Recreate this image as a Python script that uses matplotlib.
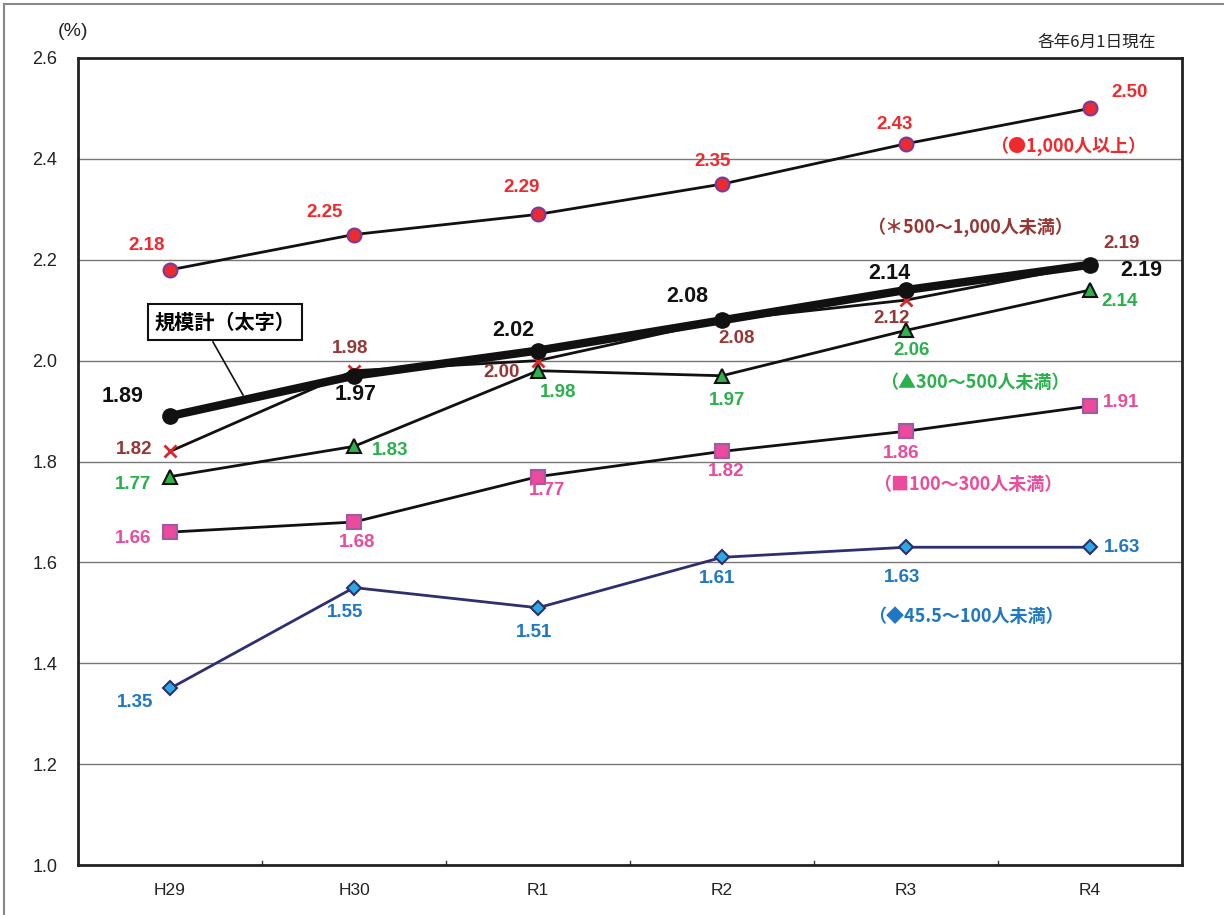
import matplotlib.pyplot as plt
from matplotlib.lines import Line2D

plt.rcParams['font.family'] = ['Noto Sans CJK JP', 'DejaVu Sans']

# data
years = ["H29", "H30", "R1", "R2", "R3", "R4"]
v1000 = [2.18, 2.25, 2.29, 2.35, 2.43, 2.50]
v500 = [1.82, 1.98, 2.00, 2.08, 2.12, 2.19]
v300 = [1.77, 1.83, 1.98, 1.97, 2.06, 2.14]
v100 = [1.66, 1.68, 1.77, 1.82, 1.86, 1.91]
v45 = [1.35, 1.55, 1.51, 1.61, 1.63, 1.63]
total = [1.89, 1.97, 2.02, 2.08, 2.14, 2.19]

# label offsets in pixels (dx, dy) with y up
off1000 = [(-23, 24), (-29, 22), (-16, 27), (-9, 23), (-11, 19), (40, 16)]
off500 = [(-36, 2), (-4, 22), (-36, -12), (15, -18), (-14, -18), (32, 21)]
off300 = [(-37, -8), (36, -4), (20, -22), (5, -25), (6, -20), (30, -11)]
off100 = [(-37, -6), (3, -20), (9, -14), (4, -20), (-5, -22), (31, 4)]
off45 = [(-35, -14), (-9, -25), (-4, -25), (-5, -21), (-4, -30), (32, 0)]
offtot = [(-47, 20), (2, -19), (-25, 20), (-35, 24), (-17, 17), (51, -6)]

x = list(range(len(years)))

fig = plt.figure(figsize=(12.24, 9.15), dpi=100)
ax = fig.add_axes([78 / 1224, 1 - 865 / 915, 1104 / 1224, 807 / 915])

ax.set_xlim(-0.5, 5.5)
ax.set_ylim(1.0, 2.6)
ax.set_yticks([1.0, 1.2, 1.4, 1.6, 1.8, 2.0, 2.2, 2.4, 2.6])
ax.set_yticklabels(["1.0", "1.2", "1.4", "1.6", "1.8", "2.0", "2.2", "2.4", "2.6"],
                   fontsize=13, family=['Liberation Sans', 'DejaVu Sans'], color='#222222')
ax.yaxis.grid(True, color='#777777', linewidth=1)
ax.set_axisbelow(True)
ax.tick_params(axis='y', length=0, pad=15)
ax.set_xticks(x)
ax.set_xticklabels(years, fontsize=12.5, family=['Liberation Sans', 'DejaVu Sans'], color='#222222')
ax.tick_params(axis='x', length=0, pad=13)
for b in [0.5, 1.5, 2.5, 3.5, 4.5]:
    ax.plot([b, b], [1.0, 1.008], color='#333333', linewidth=1)
for s in ax.spines.values():
    s.set_linewidth(2)
    s.set_color('#222222')

ax.plot(x, v45, color='#2e2f6e', linewidth=2, marker='D', markersize=7,
        markerfacecolor='#29aae1', markeredgecolor='#2e2f6e', markeredgewidth=1.5, zorder=3)
ax.plot(x, v100, color='#111111', linewidth=2, marker='s', markersize=10,
        markerfacecolor='#ec4a9b', markeredgecolor='#a05aa8', markeredgewidth=1.5, zorder=3)
ax.plot(x, v300, color='#111111', linewidth=2, marker='^', markersize=10,
        markerfacecolor='#2db34a', markeredgecolor='#111111', markeredgewidth=1.5, zorder=3)
ax.plot(x, v500, color='#111111', linewidth=2, marker='x', markersize=8,
        markeredgecolor='#d7262e', markeredgewidth=2, zorder=3)
ax.plot(x, v1000, color='#111111', linewidth=2, marker='o', markersize=10,
        markerfacecolor='#ec2a30', markeredgecolor='#7a3a9a', markeredgewidth=1.5, zorder=3)
ax.plot(x, total, color='#111111', linewidth=6, marker='o', markersize=11,
        markerfacecolor='#111111', markeredgecolor='#111111', zorder=4)

def labels(vals, offs, color, size):
    for xi, v, (dx, dy) in zip(x, vals, offs):
        ax.annotate(f"{v:.2f}", (xi, v), xytext=(dx, dy), textcoords='offset pixels',
                    ha='center', va='center', color=color, fontsize=size,
                    fontweight='bold', family=['Liberation Sans', 'DejaVu Sans'], zorder=5)

labels(v1000, off1000, '#ee2a2e', 13.5)
labels(v500, off500, '#953735', 13.5)
labels(v300, off300, '#2ab04c', 13.5)
labels(v100, off100, '#ec4a9b', 13.5)
labels(v45, off45, '#1f78c1', 13.5)
labels(total, offtot, '#111111', 15.5)

def px(xp, yp):
    return xp / 1224, 1 - yp / 915

leg = [
    ("（●1,000人以上）", '#ee2a2e', 1068, 146),
    ("（＊500～1,000人未満）", '#953735', 970, 227),
    ("（▲300～500人未満）", '#2ab04c', 975, 382),
    ("（■100～300人未満）", '#ec4a9b', 968, 484),
    ("（◆45.5～100人未満）", '#1f78c1', 966, 616),
]
for t, c, xp, yp in leg:
    fig.text(*px(xp, yp), t, color=c, fontsize=13, fontweight='bold', ha='center', va='center')

fig.text(*px(225, 322), "規模計（太字）", fontsize=14.5, fontweight='bold', ha='center', va='center',
         bbox=dict(boxstyle='square,pad=0.35', facecolor='white', edgecolor='#111111', linewidth=1.5))
fig.add_artist(Line2D([213 / 1224, 243 / 1224], [1 - 342 / 915, 1 - 395 / 915],
                      color='#111111', linewidth=1.2))

fig.text(*px(1097, 42), "各年6月1日現在", fontsize=12, ha='center', va='center', color='#222222')
fig.text(*px(73, 32), "(%)", fontsize=14, ha='center', va='center', color='#222222',
         family=['Liberation Sans', 'DejaVu Sans'])

# outer frame (top and left edges visible)
fig.add_artist(Line2D([4 / 1224, 1], [1 - 4 / 915, 1 - 4 / 915], color='#888888', linewidth=1.5))
fig.add_artist(Line2D([4 / 1224, 4 / 1224], [0, 1 - 4 / 915], color='#888888', linewidth=1.5))

fig.savefig("out.png", dpi=100)
